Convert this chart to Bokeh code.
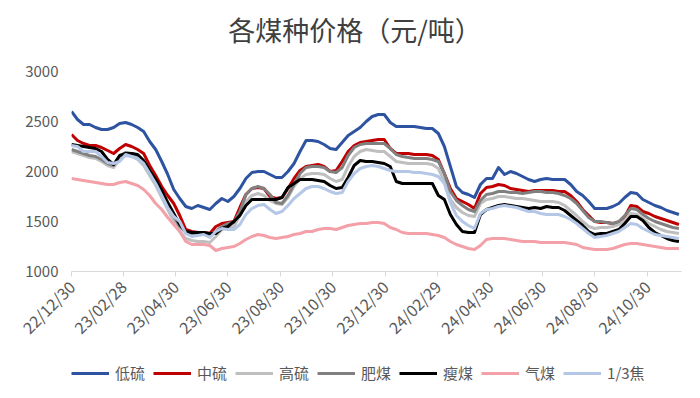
import math
import pandas as pd
from bokeh.plotting import figure
from bokeh.layouts import column
from bokeh.models import (Legend, LegendItem, FixedTicker, DatetimeTickFormatter,
                          Range1d, ColumnDataSource, Div)
from bokeh.embed import file_html
from bokeh.resources import INLINE

# ---- data (weekly, starting 2022-12-30) ----
start_date = "2022-12-30"
n_weeks = 102

low_sulfur = [2600, 2520, 2470, 2470, 2440, 2420, 2420, 2440, 2480, 2490,
              2470, 2440, 2400, 2300, 2220, 2100, 1970, 1820, 1730, 1650,
              1630, 1660, 1640, 1620, 1680, 1730, 1700, 1750, 1830, 1930,
              1990, 2000, 2000, 1970, 1940, 1940, 2000, 2080, 2200, 2310,
              2310, 2300, 2270, 2230, 2220, 2290, 2360, 2400, 2440, 2500,
              2550, 2570, 2570, 2490, 2450, 2450, 2450, 2450, 2440, 2430,
              2430, 2380, 2250, 2050, 1850, 1790, 1770, 1740, 1870, 1930,
              1930, 2040, 1970, 2000, 1980, 1950, 1920, 1900, 1920, 1930,
              1920, 1920, 1920, 1870, 1800, 1760, 1700, 1630, 1630, 1630,
              1650, 1680, 1740, 1790, 1780, 1720, 1690, 1660, 1640, 1610,
              1590, 1570]
mid_sulfur = [2370, 2310, 2280, 2260, 2260, 2240, 2210, 2180, 2230, 2270,
              2250, 2220, 2180, 2060, 1960, 1850, 1760, 1680, 1560, 1420,
              1400, 1390, 1390, 1380, 1450, 1480, 1490, 1500, 1640, 1770,
              1830, 1840, 1830, 1750, 1730, 1740, 1830, 1930, 2010, 2050,
              2060, 2070, 2050, 2000, 2010, 2100, 2200, 2260, 2290, 2300,
              2310, 2320, 2320, 2230, 2180, 2180, 2180, 2170, 2170, 2170,
              2160, 2120, 1980, 1830, 1730, 1700, 1670, 1630, 1780, 1840,
              1850, 1870, 1860, 1830, 1820, 1810, 1800, 1810, 1810, 1810,
              1810, 1800, 1800, 1760, 1700, 1620, 1560, 1500, 1490, 1490,
              1480, 1490, 1550, 1660, 1650, 1600, 1580, 1550, 1530, 1510,
              1490, 1470]
high_sulfur = [2200, 2180, 2160, 2140, 2130, 2100, 2060, 2040, 2120, 2160,
               2150, 2120, 2060, 1960, 1860, 1740, 1620, 1500, 1400, 1330,
               1310, 1300, 1300, 1290, 1350, 1420, 1440, 1450, 1560, 1700,
               1760, 1780, 1760, 1710, 1680, 1670, 1740, 1850, 1930, 1970,
               1980, 1980, 1970, 1930, 1900, 1920, 2050, 2150, 2200, 2220,
               2210, 2200, 2200, 2150, 2100, 2090, 2080, 2080, 2080, 2080,
               2070, 2030, 1900, 1720, 1640, 1590, 1560, 1550, 1680, 1720,
               1730, 1750, 1750, 1740, 1730, 1730, 1720, 1710, 1700, 1700,
               1700, 1690, 1660, 1610, 1560, 1500, 1450, 1430, 1440, 1440,
               1450, 1470, 1510, 1580, 1570, 1530, 1480, 1450, 1420, 1400,
               1390, 1380]
fat_coal = [2220, 2200, 2180, 2160, 2150, 2120, 2080, 2060, 2150, 2190,
            2180, 2160, 2100, 2010, 1900, 1780, 1660, 1550, 1450, 1390,
            1380, 1380, 1380, 1370, 1400, 1450, 1480, 1490, 1600, 1770,
            1830, 1850, 1830, 1770, 1690, 1680, 1760, 1870, 1980, 2040,
            2050, 2050, 2040, 2000, 1990, 2040, 2160, 2240, 2270, 2280,
            2280, 2280, 2280, 2230, 2170, 2150, 2140, 2130, 2130, 2130,
            2120, 2100, 1980, 1800, 1710, 1660, 1620, 1600, 1710, 1770,
            1780, 1800, 1800, 1790, 1790, 1780, 1790, 1800, 1800, 1790,
            1790, 1780, 1760, 1730, 1680, 1610, 1540, 1500, 1500, 1490,
            1480, 1500, 1560, 1630, 1620, 1570, 1530, 1500, 1480, 1460,
            1440, 1430]
lean_coal = [2270, 2260, 2250, 2240, 2230, 2200, 2120, 2070, 2160, 2180,
             2180, 2170, 2110, 2010, 1920, 1810, 1690, 1580, 1470, 1400,
             1390, 1390, 1390, 1380, 1380, 1430, 1450, 1500, 1560, 1660,
             1720, 1720, 1720, 1720, 1720, 1740, 1840, 1880, 1920, 1920,
             1920, 1910, 1900, 1860, 1830, 1840, 1940, 2060, 2110, 2100,
             2100, 2090, 2080, 2050, 1900, 1880, 1880, 1880, 1880, 1880,
             1880, 1760, 1720, 1570, 1470, 1400, 1390, 1390, 1570, 1620,
             1640, 1660, 1670, 1660, 1650, 1640, 1630, 1640, 1630, 1650,
             1640, 1640, 1610, 1560, 1510, 1460, 1400, 1370, 1380, 1380,
             1400, 1420, 1480, 1550, 1550, 1510, 1440, 1390, 1360, 1330,
             1310, 1300]
gas_coal = [1930, 1920, 1910, 1900, 1890, 1880, 1870, 1870, 1890, 1900,
            1880, 1860, 1820, 1760, 1680, 1620, 1540, 1470, 1400, 1300,
            1270, 1270, 1270, 1260, 1210, 1230, 1240, 1250, 1280, 1320,
            1350, 1370, 1360, 1340, 1330, 1340, 1350, 1370, 1380, 1400,
            1400, 1420, 1430, 1430, 1420, 1440, 1460, 1470, 1480, 1480,
            1490, 1490, 1480, 1440, 1420, 1390, 1380, 1380, 1380, 1380,
            1370, 1360, 1340, 1300, 1270, 1250, 1230, 1220, 1260, 1320,
            1330, 1330, 1330, 1320, 1310, 1300, 1300, 1300, 1290, 1290,
            1290, 1290, 1290, 1280, 1270, 1240, 1230, 1220, 1220, 1220,
            1230, 1250, 1270, 1280, 1280, 1270, 1260, 1250, 1240, 1230,
            1230, 1230]
third_coking = [2260, 2250, 2200, 2200, 2200, 2150, 2090, 2080, 2100, 2170,
                2150, 2130, 2080, 1980, 1880, 1760, 1640, 1550, 1500, 1380,
                1350, 1360, 1370, 1340, 1400, 1430, 1420, 1420, 1470, 1570,
                1630, 1660, 1670, 1620, 1580, 1600, 1660, 1730, 1780, 1830,
                1850, 1850, 1830, 1800, 1780, 1790, 1900, 1980, 2030, 2050,
                2060, 2050, 2030, 2010, 2000, 2000, 2000, 1990, 1990, 1980,
                1970, 1950, 1880, 1690, 1560, 1500, 1460, 1430, 1580, 1620,
                1630, 1650, 1660, 1650, 1640, 1620, 1600, 1600, 1580, 1570,
                1570, 1570, 1550, 1520, 1480, 1430, 1380, 1340, 1350, 1360,
                1380, 1400, 1440, 1480, 1470, 1430, 1400, 1370, 1360, 1350,
                1340, 1330]

series_names = ["低硫", "中硫", "高硫", "肥煤", "瘦煤", "气煤", "1/3焦"]
series_values = [low_sulfur, mid_sulfur, high_sulfur, fat_coal, lean_coal,
                 gas_coal, third_coking]
series_colors = ["#2E54A1", "#C00000", "#BFBFBF", "#808080", "#000000",
                 "#F4A0A8", "#B4C7E7"]

tick_dates = ["2022-12-30", "2023-02-28", "2023-04-30", "2023-06-30",
              "2023-08-30", "2023-10-30", "2023-12-30", "2024-02-29",
              "2024-04-30", "2024-06-30", "2024-08-30", "2024-10-30"]
y_ticks = [1000, 1500, 2000, 2500, 3000]
title_text = "各煤种价格（元/吨）"

dates = pd.date_range(start_date, periods=n_weeks, freq="7D")


def ms(d):
    return pd.Timestamp(d).value / 1e6


FONT = "Noto Sans CJK SC"
TXT = "#595959"

# ---- title ----
title_div = Div(text=title_text, width=692, height=50,
                styles={"font-family": FONT, "font-size": "27px",
                        "color": "#404040", "text-align": "center",
                        "line-height": "50px", "text-indent": "8px",
                        "white-space": "nowrap"})

# ---- main chart ----
p = figure(width=692, height=296, output_backend="svg",
           toolbar_location=None, x_axis_type="datetime",
           x_range=Range1d(ms(start_date), ms("2024-12-09")),
           y_range=Range1d(1000, 3000),
           min_border_left=71, min_border_right=11, min_border_top=11,
           min_border_bottom=85)
p.outline_line_color = None
p.background_fill_color = "white"
p.border_fill_color = "white"
p.xgrid.visible = False
p.ygrid.visible = False

for name, vals, col in zip(series_names, series_values, series_colors):
    src = ColumnDataSource(dict(x=dates, y=vals))
    p.line("x", "y", source=src, line_color=col, line_width=3,
           line_join="round")

# y axis
ya = p.yaxis[0]
ya.ticker = FixedTicker(ticks=y_ticks)
ya.axis_line_color = None
ya.major_tick_line_color = None
ya.minor_tick_line_color = None
ya.major_label_text_font = FONT
ya.major_label_text_font_size = "15px"
ya.major_label_text_color = TXT
ya.major_label_standoff = 7

# x axis
xa = p.xaxis[0]
xa.ticker = FixedTicker(ticks=[ms(d) for d in tick_dates])
fmt = "%y/%m/%d"
xa.formatter = DatetimeTickFormatter(
    milliseconds=fmt, seconds=fmt, minsec=fmt, minutes=fmt, hourmin=fmt,
    hours=fmt, days=fmt, months=fmt, years=fmt)
xa.major_label_orientation = math.pi / 4
xa.axis_line_color = "#D9D9D9"
xa.axis_line_width = 1
xa.major_tick_line_color = "#D9D9D9"
xa.major_tick_in = 0
xa.major_tick_out = 5
xa.minor_tick_line_color = None
xa.major_label_text_font = FONT
xa.major_label_text_font_size = "16px"
xa.major_label_text_color = TXT
xa.major_label_standoff = 7

# ---- legend strip (separate figure holding only the legend) ----
lg = figure(width=692, height=32, output_backend="svg", toolbar_location=None,
            x_range=Range1d(0, 1), y_range=Range1d(0, 1),
            min_border=0, min_border_left=0, min_border_right=0,
            min_border_top=0, min_border_bottom=0)
lg.axis.visible = False
lg.grid.visible = False
lg.outline_line_color = None
lg.border_fill_color = "white"
nan = float("nan")
items = []
for name, col in zip(series_names, series_colors):
    r = lg.line(x=[nan], y=[nan], line_color=col, line_width=3)
    items.append(LegendItem(label=name, renderers=[r]))
legend = Legend(
    items=items, orientation="horizontal", location=(0, 5),
    glyph_width=38, glyph_height=14, label_standoff=6, spacing=8,
    label_text_font=FONT, label_text_font_size="15px", label_text_color=TXT,
    border_line_color=None, background_fill_alpha=0, padding=0, margin=0)
lg.add_layout(legend, "center")

layout = column(title_div, p, lg, spacing=0)
open("out.html", "w").write(file_html(layout, INLINE))
